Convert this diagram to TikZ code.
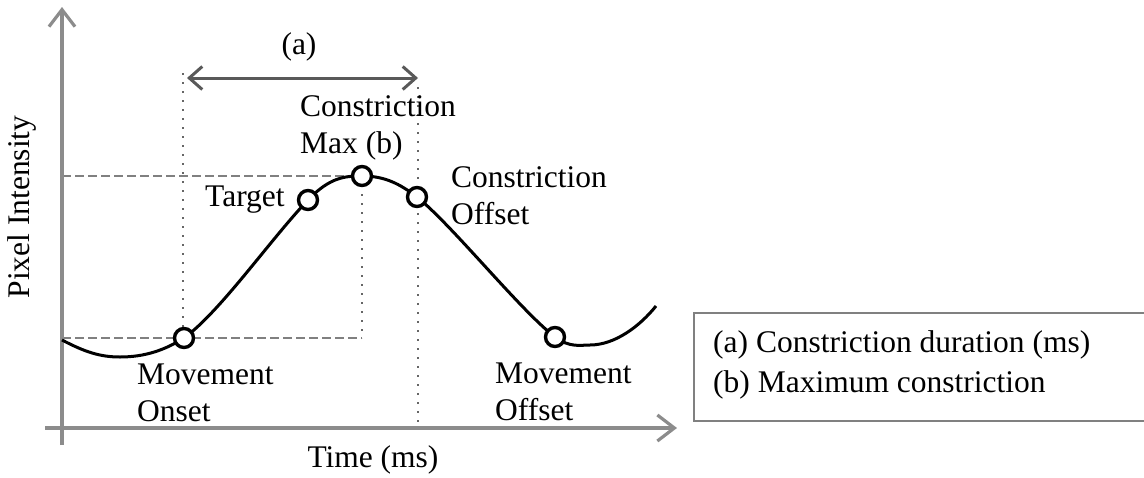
\documentclass[tikz,border=0pt]{standalone}
\usepackage{fontspec}
\setmainfont{Liberation Serif}
\usetikzlibrary{arrows.meta}
\begin{document}
\begin{tikzpicture}[x=1pt,y=-1pt,
  axis/.style={draw=black!45,line width=3.2pt},
  guidedot/.style={draw=black!60,line width=2.8pt,dash pattern=on 2pt off 7pt},
  guidedash/.style={draw=black!50,line width=2.8pt,dash pattern=on 9pt off 4pt},
  curve/.style={draw=black,line width=3pt},
  ptmark/.style={circle,draw=black,fill=white,line width=3.4pt,minimum size=19pt,inner sep=0pt},
  lbl/.style={font=\fontsize{31.5}{37}\selectfont,inner sep=0pt,align=left},
  legendbox/.style={draw=black!50,line width=2.8pt}]
\useasboundingbox (0,0) rectangle (1144,477);
% guides
\draw[guidedash] (62,176) -- (362,176);
\draw[guidedash] (62,338) -- (362,338);
\draw[guidedot] (362,176) -- (362,338);
\draw[guidedot] (183,73) -- (183,338);
\draw[guidedot] (418,87) -- (418,428);
% axes
\coordinate (o) at (62,445);
\coordinate (yt) at (62,7);
\coordinate (xl) at (45,428);
\coordinate (xt) at (677,428);
\draw[axis,-{Straight Barb[length=17pt,width=26pt,line width=3.2pt]}] (o) -- (yt);
\draw[axis,-{Straight Barb[length=17pt,width=26pt,line width=3.2pt]}] (xl) -- (xt);
% curve
\draw[curve] (62,340) .. controls (85,352) and (100,357) .. (120,357)
  .. controls (145,357) and (165,350) .. (184,338)
  .. controls (220,312) and (270,240) .. (308,200)
  .. controls (330,177) and (345,176) .. (362,176)
  .. controls (385,176) and (400,184) .. (417,197)
  .. controls (452,225) and (520,310) .. (555,337)
  .. controls (570,348) and (580,345) .. (590,345)
  .. controls (615,345) and (640,326) .. (656,306);
% markers
\node[ptmark] (onset) at (184,338) {};
\node[ptmark] (target) at (308,200) {};
\node[ptmark] (cmax) at (362,176) {};
\node[ptmark] (coff) at (417,197) {};
\node[ptmark] (moff) at (555,337) {};
% duration arrow
\coordinate (da) at (187,78);
\coordinate (db) at (418,78);
\draw[draw=black!65,line width=3pt,{Straight Barb[length=13pt,width=23pt,line width=3pt]}-{Straight Barb[length=13pt,width=23pt,line width=3pt]}] (da) -- (db);
% labels
\node[lbl] (la) at (299,47) {(a)};
\node[lbl,anchor=west] (lmax) at (300,128) {Constriction\\Max (b)};
\node[lbl,anchor=west] (ltarget) at (205,200) {Target};
\node[lbl,anchor=west] (lcoff) at (451,196) {Constriction\\Offset};
\node[lbl,anchor=west] (lmoff) at (495,392) {Movement\\Offset};
\node[lbl,anchor=west] (lonset) at (137,393) {Movement\\Onset};
\node[lbl] (ltime) at (373,460) {Time (ms)};
\node[lbl,rotate=90] (lpix) at (22,207) {Pixel Intensity};
% legend
\draw[legendbox] (694,313) rectangle (1170,421);
\node[lbl,anchor=west,font=\fontsize{31.5}{40}\selectfont] (leg) at (713,365) {(a) Constriction duration (ms)\\(b) Maximum constriction};
\end{tikzpicture}
\end{document}
